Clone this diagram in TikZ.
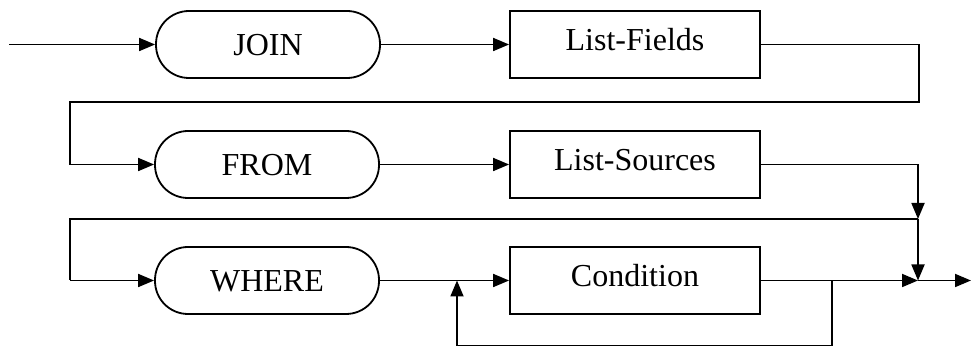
\documentclass[tikz,border=0pt]{standalone}
\usepackage{fontspec}
\setmainfont{Liberation Serif}
\usetikzlibrary{arrows.meta}
\begin{document}
\begin{tikzpicture}[x=1pt,y=-1pt,
  line width=1.8pt,
  every node/.style={font=\fontsize{32}{38}\selectfont, inner sep=0pt},
  term/.style={draw, rounded corners=33pt, minimum width=224pt, minimum height=67pt, text height=22pt, text depth=0pt},
  box/.style={draw, rectangle, minimum width=250pt, minimum height=67pt, text height=22pt, text depth=10pt},
  flow/.style={-{Triangle[length=16pt,width=13pt]}}]
\useasboundingbox (0,0) rectangle (972,347);
\node[term] (join) at (268,44.5) {JOIN};
\node[box] (fields) at (635,44.5) {List-Fields};
\node[term] (from) at (267,164.5) {FROM};
\node[box] (sources) at (635,164.5) {List-Sources};
\node[term] (where) at (267,280.5) {WHERE};
\node[box] (cond) at (635,280.5) {Condition};
\coordinate (start) at (9,44.5);
\coordinate (r1) at (919,44.5);
\coordinate (r1b) at (919,102);
\coordinate (l1) at (70,102);
\coordinate (l1b) at (70,164.5);
\coordinate (r2) at (918,164.5);
\coordinate (j1) at (918,219);
\coordinate (l2) at (70,219);
\coordinate (l2b) at (70,280.5);
\coordinate (j2) at (918,280.5);
\coordinate (fin) at (971,280.5);
\coordinate (lp) at (832,280.5);
\coordinate (lpb) at (832,345.5);
\coordinate (lq) at (457,345.5);
\coordinate (lqt) at (457,280.5);
\draw[flow] (start) -- (join.west);
\draw[flow] (join.east) -- (fields.west);
\draw[flow] (fields.east) -- (r1) -- (r1b) -- (l1) -- (l1b) -- (from.west);
\draw[flow] (from.east) -- (sources.west);
\draw[flow] (sources.east) -- (r2) -- (j1);
\draw (j1) -- (l2) -- (l2b);
\draw[flow] (l2b) -- (where.west);
\draw[flow] (where.east) -- (cond.west);
\draw[flow] (cond.east) -- (j2);
\draw[flow] (j1) -- (j2);
\draw[flow] (j2) -- (fin);
\draw[flow] (lp) -- (lpb) -- (lq) -- (lqt);
\end{tikzpicture}
\end{document}
